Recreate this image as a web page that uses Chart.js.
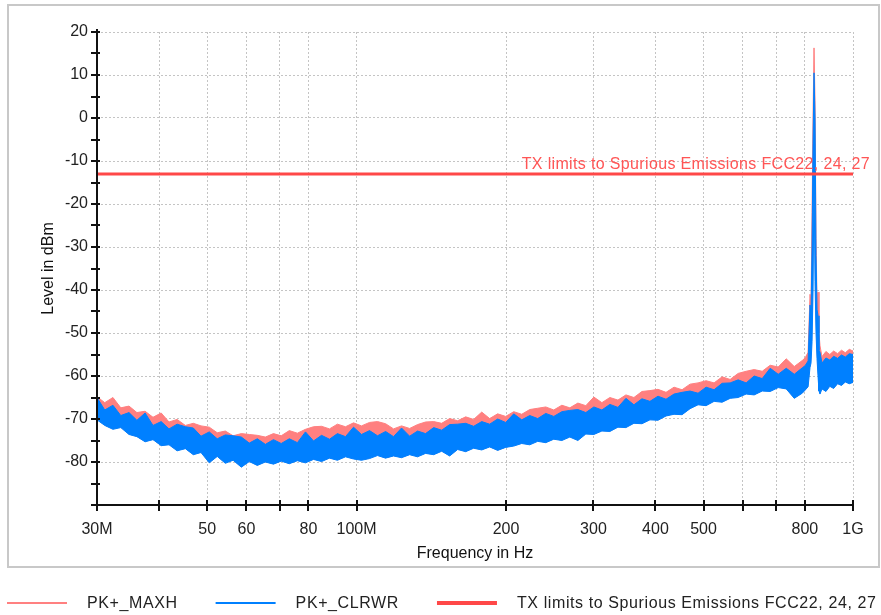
<!DOCTYPE html>
<html><head><meta charset="utf-8">
<script src="https://cdn.jsdelivr.net/npm/chart.js@4.4.0/dist/chart.umd.min.js"></script>
<style>html,body{margin:0;padding:0;background:#fff;}#wrap{width:881px;height:615px;}</style>
</head><body><div id="wrap"><canvas id="c" width="881" height="615"></canvas></div>
<script>
// Frequency points (MHz) read along the log axis
const freqMHz = [
  30,31.1,32.3,33.5,34.8,36.1,37.5,38.9,40.4,41.9,
  43.5,45.2,46.9,48.6,50.5,52.4,54.4,56.4,58.6,60.8,
  63.1,65.5,68.0,70.5,73.2,76.0,78.9,81.9,85.0,88.2,
  91.5,95.0,98.6,102.3,106.2,110.2,114.4,118.7,123.2,127.9,
  132.7,137.7,143.0,148.4,154.0,159.8,165.9,172.1,178.7,185.4,
  192.4,199.7,207.3,215.1,223.3,231.7,240.5,249.6,259.1,268.9,
  279.1,289.6,300.6,312.0,323.8,336.1,348.8,362.0,375.7,389.9,
  404.7,420.1,436.0,452.5,469.6,487.4,505.9,525.0,544.9,565.6,
  587.0,609.2,632.3,656.3,681.1,706.9,733.7,761.5,790.3,
  800.7,812,819.3,823,827,830.8,834.6,838.5,842.4,846.3,850.2,854.1,858.1,
  866,882,898,914,931,948,965,983,1000
];
// PK+_MAXH trace (upper edge, dBm)
const maxhTop = [
  -64.8,-66.2,-65.0,-67.4,-67.0,-68.5,-68.2,-69.6,-68.6,-70.7,
  -70.1,-71.5,-71.0,-71.6,-71.9,-73.2,-72.8,-73.9,-73.4,-73.6,
  -73.8,-74.2,-73.4,-73.9,-72.7,-73.3,-72.4,-71.8,-71.7,-72.3,
  -71.2,-71.8,-70.9,-71.6,-70.8,-70.6,-71.1,-72.3,-71.6,-72.2,
  -71.3,-70.7,-70.6,-71.0,-69.9,-70.4,-69.5,-70.1,-68.4,-69.9,
  -68.8,-69.4,-68.3,-68.9,-67.8,-67.5,-67.2,-67.9,-66.8,-67.4,
  -66.3,-66.9,-64.9,-66.2,-65.0,-65.6,-64.4,-65.0,-63.6,-63.4,
  -63.1,-63.8,-62.6,-63.2,-61.9,-61.6,-61.1,-61.6,-60.2,-60.8,
  -59.4,-58.9,-58.5,-58.9,-57.5,-57.9,-56.0,-57.8,-56.4,
  -55.8,-54.5,-41,-43,-22,0,16.3,4,-28,-43,-40.5,-50,-53,
  -55.5,-54.3,-55.0,-54.2,-54.8,-54.0,-54.6,-53.8,-54.2
];
// PK+_CLRWR trace (upper edge, dBm)
const clrwrTop = [
  -65.0,-67.9,-66.8,-69.2,-68.5,-70.3,-68.6,-71.5,-70.6,-72.3,
  -71.2,-71.8,-72.1,-74.0,-73.0,-74.6,-73.7,-73.9,-74.2,-75.6,
  -74.6,-75.9,-74.8,-75.7,-74.6,-75.5,-73.0,-75.1,-73.8,-74.7,
  -73.4,-74.1,-71.9,-73.6,-72.7,-73.9,-72.9,-74.1,-72.1,-74.0,
  -72.8,-73.4,-72.0,-72.6,-71.3,-71.2,-71.0,-71.7,-70.6,-71.2,
  -70.0,-70.8,-68.8,-70.2,-69.2,-69.9,-68.7,-69.4,-68.3,-68.0,
  -67.8,-68.5,-67.2,-67.9,-66.6,-67.3,-65.2,-66.7,-65.3,-65.9,
  -64.7,-65.4,-64.2,-63.8,-63.5,-64.0,-62.6,-63.2,-61.7,-61.6,
  -60.9,-61.6,-60.0,-60.6,-58.2,-59.6,-58.2,-59.6,-58.1,
  -57.6,-56.5,-43.5,-46,-30,-6,10.5,0,-32,-44.5,-46,-54,-54.5,
  -57,-55.8,-56.3,-55.4,-55.9,-55.1,-55.6,-54.8,-55.0
];
// PK+_CLRWR trace (lower edge, dBm)
const clrwrBottom = [
  -70.2,-71.5,-72.4,-72.0,-73.6,-74.1,-75.3,-74.8,-76.2,-76.0,
  -77.4,-76.9,-78.3,-77.8,-80.2,-78.7,-80.3,-79.6,-81.2,-79.9,
  -80.8,-80.0,-80.5,-79.8,-80.4,-79.7,-80.2,-79.4,-79.9,-79.1,
  -79.6,-78.8,-79.3,-79.6,-79.2,-78.5,-79.1,-78.6,-79.0,-78.3,
  -78.8,-78.0,-78.3,-77.5,-78.6,-77.1,-77.6,-76.8,-77.2,-76.5,
  -77.3,-76.6,-76.3,-75.7,-76.0,-75.2,-75.5,-74.7,-75.0,-74.2,
  -75.0,-73.5,-73.6,-72.8,-72.9,-71.9,-72.0,-71.0,-71.1,-70.2,
  -70.3,-69.3,-68.9,-69.0,-67.6,-66.7,-66.9,-65.9,-66.1,-65.2,
  -65.0,-64.2,-64.4,-63.5,-63.6,-62.7,-63.0,-65.2,-64.0,
  -63.3,-62.5,-58,-57,-52,-40,-13,-38,-50,-56,-60,-63.5,-64.2,
  -63,-63.6,-62.4,-62.9,-61.8,-62.2,-61.4,-61.8,-61.5
];
// Limit line
const limitFreq = [30, 1000];
const limitLevel = [-13, -13];
// Axis ticks
const xTickValues = [30,40,50,60,70,80,100,200,300,400,500,600,700,800,1000];
const xTickLabels = ['30M','','50','60','','80','100M','200','300','400','500','','','800','1G'];
const yTickValues = [-90,-85,-80,-75,-70,-65,-60,-55,-50,-45,-40,-35,-30,-25,-20,-15,-10,-5,0,5,10,15,20];
const yTickLabels = ['','','-80','','-70','','-60','','-50','','-40','','-30','','-20','','-10','','0','','10','','20'];
const seriesNames = ['PK+_MAXH','PK+_CLRWR','TX limits to Spurious Emissions FCC22, 24, 27'];

const FONT = '"Liberation Sans", Arial, sans-serif';
const pts = (xs, ys) => xs.map((x, i) => ({x: x, y: ys[i]}));

const deco = {
  id: 'deco',
  beforeDraw(chart) {
    const ctx = chart.ctx;
    ctx.save();
    ctx.fillStyle = '#fff';
    ctx.fillRect(0, 0, chart.width, chart.height);
    ctx.strokeStyle = '#c8c8c8';
    ctx.lineWidth = 2;
    ctx.strokeRect(8, 5, 871, 562);
    ctx.restore();
  },
  afterDraw(chart) {
    const {ctx, chartArea: a, scales: {x, y}} = chart;
    ctx.save();
    ctx.strokeStyle = '#111';
    ctx.lineWidth = 2;
    ctx.beginPath();
    ctx.moveTo(a.left, a.top - 3);
    ctx.lineTo(a.left, a.bottom);
    ctx.lineTo(a.right + 1, a.bottom);
    ctx.stroke();
    ctx.beginPath();
    yTickValues.forEach(v => {
      const p = Math.round(y.getPixelForValue(v));
      ctx.moveTo(a.left - 6, p); ctx.lineTo(a.left + 3, p);
    });
    xTickValues.forEach(v => {
      const p = Math.round(x.getPixelForValue(v));
      ctx.moveTo(p, a.bottom - 5); ctx.lineTo(p, a.bottom + 6);
    });
    ctx.stroke();
    const ly = y.getPixelForValue(limitLevel[0]);
    ctx.font = '16px ' + FONT;
    ctx.letterSpacing = '0.35px';
    ctx.fillStyle = '#ff5555';
    ctx.textAlign = 'right';
    ctx.textBaseline = 'alphabetic';
    ctx.fillText(seriesNames[2], a.right + 17, ly - 5);
    ctx.textAlign = 'left';
    ctx.textBaseline = 'middle';
    ctx.letterSpacing = '0.6px';
    let lx = 7;
    const legY = 603;
    chart.data.datasets.forEach(d => {
      if (!d.legendWidth) return;
      ctx.strokeStyle = d.borderColor;
      ctx.lineWidth = d.legendWidth;
      ctx.beginPath();
      ctx.moveTo(lx, legY); ctx.lineTo(lx + 60, legY);
      ctx.stroke();
      ctx.fillStyle = '#222';
      ctx.fillText(d.label, lx + 80, legY + 1);
      lx += 80 + ctx.measureText(d.label).width + 38;
    });
    ctx.restore();
  }
};

new Chart(document.getElementById('c'), {
  type: 'line',
  data: {
    datasets: [
      {label: seriesNames[0], data: pts(freqMHz, maxhTop), borderColor: '#ff8080', backgroundColor: '#ff8080',
       borderWidth: 1, pointRadius: 0, fill: 2, order: 3, legendWidth: 2},
      {label: seriesNames[1], data: pts(freqMHz, clrwrTop), borderColor: '#0080ff', backgroundColor: '#0080ff',
       borderWidth: 1, pointRadius: 0, fill: 2, order: 2, legendWidth: 2},
      {label: '', data: pts(freqMHz, clrwrBottom), borderColor: '#0080ff', backgroundColor: '#0080ff',
       borderWidth: 1, pointRadius: 0, fill: false, order: 2},
      {label: seriesNames[2], data: pts(limitFreq, limitLevel), borderColor: '#ff4848', backgroundColor: '#ff4848',
       borderWidth: 3, pointRadius: 0, fill: false, order: 0, legendWidth: 4}
    ]
  },
  options: {
    responsive: false,
    devicePixelRatio: 1,
    animation: false,
    events: [],
    layout: {padding: {left: 8, right: 28, top: 32, bottom: 0}},
    plugins: {legend: {display: false}, tooltip: {enabled: false}},
    scales: {
      x: {
        type: 'logarithmic', min: 30, max: 1000, position: 'bottom',
        afterBuildTicks: s => { s.ticks = xTickValues.map(v => ({value: v})); },
        afterFit: s => { s.height = 110; },
        ticks: {autoSkip: false, maxRotation: 0, minRotation: 0, padding: 15, color: '#222',
                font: {family: FONT, size: 16}, callback: (v, i) => xTickLabels[i]},
        grid: {color: '#c4c4c4', lineWidth: 1, drawTicks: false},
        border: {display: false, dash: [2, 2]},
        title: {display: true, text: 'Frequency in Hz', color: '#111', font: {family: FONT, size: 16},
                padding: {top: 0, bottom: 52}}
      },
      y: {
        type: 'linear', min: -90, max: 20,
        afterBuildTicks: s => { s.ticks = yTickValues.map(v => ({value: v})); },
        afterFit: s => { s.width = 89; },
        ticks: {padding: 9, color: '#222', font: {family: FONT, size: 16}, callback: (v, i) => yTickLabels[i]},
        grid: {color: '#c4c4c4', lineWidth: 1, drawTicks: false},
        border: {display: false, dash: [2, 2]},
        title: {display: true, text: 'Level in dBm', color: '#111', font: {family: FONT, size: 16},
                padding: {top: 31, bottom: 0}}
      }
    }
  },
  plugins: [deco]
});
</script>
</body></html>
